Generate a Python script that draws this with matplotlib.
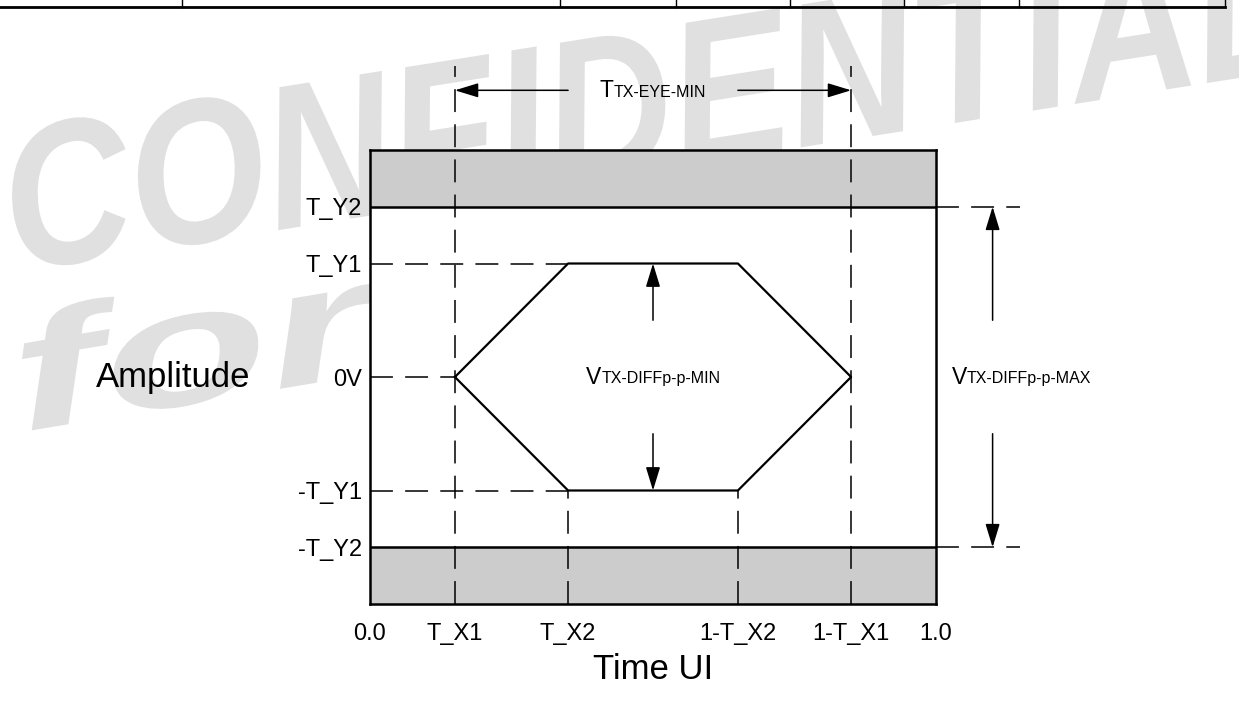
import matplotlib
matplotlib.use('Agg')
import matplotlib.pyplot as plt
import matplotlib.transforms as mtransforms
from matplotlib.lines import Line2D
from matplotlib.patches import PathPatch
from matplotlib.textpath import TextPath
from matplotlib.font_manager import FontProperties
from matplotlib.offsetbox import TextArea, HPacker, AnnotationBbox

plt.rcParams['font.family'] = ['Liberation Sans', 'DejaVu Sans']

# 眼图模板的参数 (单位: UI / 归一化幅度)
t_x1, t_x2 = 0.15, 0.35
t_y1, t_y2 = 0.5, 0.75

x_ticks = [0.0, t_x1, t_x2, 1 - t_x2, 1 - t_x1, 1.0]
x_tick_labels = ['0.0', 'T_X1', 'T_X2', '1-T_X2', '1-T_X1', '1.0']
y_ticks = [t_y2, t_y1, 0.0, -t_y1, -t_y2]
y_tick_labels = ['T_Y2', 'T_Y1', '0V', '-T_Y1', '-T_Y2']

# 六边形的眼图区域
eye_x = [t_x1, t_x2, 1 - t_x2, 1 - t_x1, 1 - t_x2, t_x2, t_x1]
eye_y = [0, t_y1, t_y1, 0, -t_y1, -t_y1, 0]

# 上方残留表格的竖线位置 (像素)
table_cols = [182, 560, 676, 790, 904, 1019, 1225]

W, H = 1239, 704
fig = plt.figure(figsize=(W / 100, H / 100), dpi=100)

# 水印 CONFIDENTIAL / for
wm_font = FontProperties(family='Liberation Sans', weight='bold', style='italic')


def watermark(word, x, y, size, sx, angle):
    path = TextPath((0, 0), word, size=size, prop=wm_font)
    tr = mtransforms.Affine2D().scale(sx, 1).rotate_deg(angle).translate(x, y)
    patch = PathPatch(path, transform=tr + mtransforms.IdentityTransform(),
                      facecolor='#e0e0e0', edgecolor='none', zorder=-5)
    fig.add_artist(patch)


watermark('CONFIDENTIAL', 14, H - 272, 205, 0.86, 9.0)
watermark('for', 22, H - 432, 165, 1.65, 9.5)

# 顶部表格的残留线
fig.add_artist(Line2D([0, table_cols[-1] / W], [1 - 7 / H] * 2,
                      transform=fig.transFigure, color='k', lw=2))
for c in table_cols:
    fig.add_artist(Line2D([c / W] * 2, [1, 1 - 7 / H],
                          transform=fig.transFigure, color='k', lw=1))

ax = fig.add_axes([370 / W, 100 / H, 566 / W, 454 / H])
ax.set_xlim(0, 1)
ax.set_ylim(-1, 1)
ax.set_facecolor('white')

# 灰色禁区
ax.axhspan(t_y2, 1, color='#cccccc', lw=0)
ax.axhspan(-1, -t_y2, color='#cccccc', lw=0)
ax.axhline(t_y2, color='k', lw=1.8)
ax.axhline(-t_y2, color='k', lw=1.8)

ax.plot(eye_x, eye_y, color='k', lw=1.6)

# 虚线辅助线
dash = dict(colors='k', linewidths=1.1, linestyles=[(0, (15, 8))], clip_on=False)
ax.vlines([t_x1, 1 - t_x1], -1, 1.37, **dash)
ax.hlines([t_y1, 0, -t_y1], 0, [t_x2, t_x1, t_x2], **dash)
ax.vlines([t_x2, 1 - t_x2], -1, -t_y1, **dash)
ax.hlines([t_y2, -t_y2], 1, 1.148, **dash)

# 箭头
aprops = dict(arrowstyle='-|>,head_length=0.72,head_width=0.22', mutation_scale=20,
              color='k', lw=1.1, shrinkA=0, shrinkB=0)
y_top = 1.263
ax.annotate('', xy=(t_x1, y_top), xytext=(t_x2, y_top), arrowprops=aprops, annotation_clip=False)
ax.annotate('', xy=(1 - t_x1, y_top), xytext=(1 - t_x2, y_top), arrowprops=aprops, annotation_clip=False)
ax.annotate('', xy=(0.5, t_y1), xytext=(0.5, 0.25), arrowprops=aprops)
ax.annotate('', xy=(0.5, -t_y1), xytext=(0.5, -0.25), arrowprops=aprops)
ax.annotate('', xy=(1.10, t_y2), xytext=(1.10, 0.25), arrowprops=aprops, annotation_clip=False)
ax.annotate('', xy=(1.10, -t_y2), xytext=(1.10, -0.25), arrowprops=aprops, annotation_clip=False)


def sub_label(big, small, xy, align):
    box = HPacker(children=[TextArea(big, textprops=dict(size=16.5)),
                            TextArea(small, textprops=dict(size=11.5))],
                  align='baseline', pad=0, sep=0)
    ab = AnnotationBbox(box, xy, xycoords=ax.transData, frameon=False,
                        box_alignment=align, annotation_clip=False, pad=0)
    fig.add_artist(ab)


sub_label('T', 'TX-EYE-MIN', (0.5, y_top), (0.5, 0.5))
sub_label('V', 'TX-DIFFp-p-MIN', (0.5, 0), (0.5, 0.5))
sub_label('V', 'TX-DIFFp-p-MAX', (1.028, 0), (0.0, 0.5))

# 坐标轴
ax.set_xticks(x_ticks)
ax.set_xticklabels(x_tick_labels)
ax.set_yticks(y_ticks)
ax.set_yticklabels(y_tick_labels)
ax.tick_params(axis='x', length=0, pad=14, labelsize=17)
ax.tick_params(axis='y', length=0, pad=6, labelsize=17)
for s in ax.spines.values():
    s.set_linewidth(1.8)

ax.set_xlabel('Time UI', fontsize=25, va='center')
ax.xaxis.set_label_coords(0.5, -0.144)
ax.set_ylabel('Amplitude', fontsize=25, rotation=0, ha='center', va='center')
ax.yaxis.set_label_coords(-0.348, 0.5)

plt.savefig('out.png', dpi=100)
